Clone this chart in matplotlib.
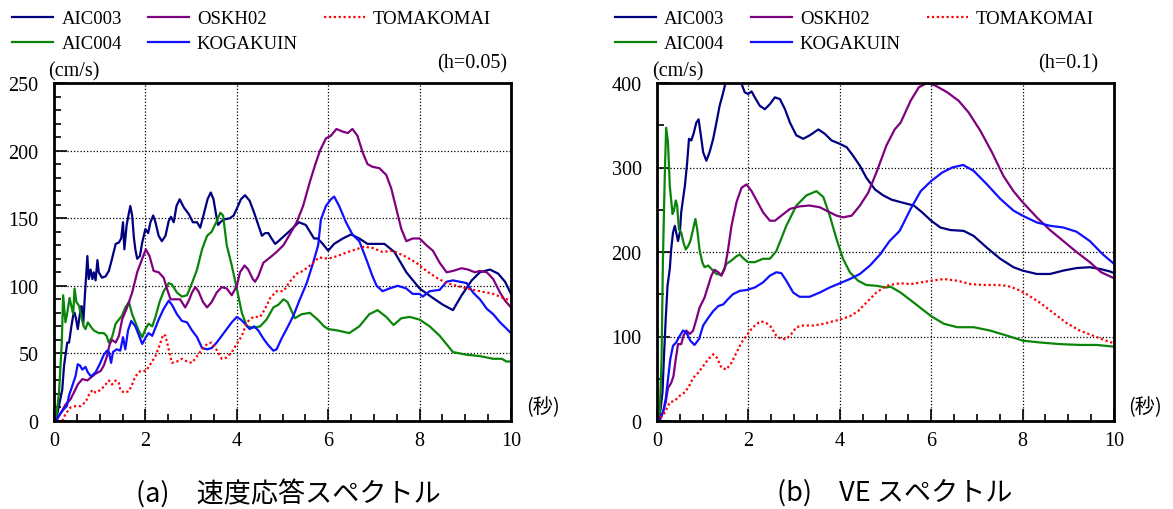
import matplotlib
matplotlib.use("Agg")
import matplotlib.pyplot as plt
from matplotlib.ticker import MultipleLocator

SERIF = "Liberation Serif"
CJK = ["Noto Sans CJK JP", "DejaVu Sans"]

# ---------------- (a) velocity response spectra, h = 0.05 ----------------
a_aic003_t = [0.04, 0.18, 0.22, 0.29, 0.33, 0.38, 0.42, 0.45, 0.48, 0.52, 0.57, 0.60, 0.64, 0.68,
              0.73, 0.76, 0.80, 0.84, 0.87, 0.91, 0.95, 0.98, 1.05, 1.13, 1.20, 1.27, 1.35, 1.42,
              1.47, 1.51, 1.54, 1.59, 1.64, 1.67, 1.71, 1.75, 1.78, 1.82, 1.88, 1.93, 2.00, 2.06,
              2.11, 2.17, 2.22, 2.29, 2.36, 2.44, 2.51, 2.56, 2.62, 2.68, 2.75, 2.84, 2.95, 3.04,
              3.13, 3.20, 3.27, 3.36, 3.43, 3.49, 3.55, 3.59, 3.64, 3.71, 3.85, 3.93, 4.00, 4.09,
              4.18, 4.28, 4.38, 4.47, 4.55, 4.62, 4.69, 4.76, 4.84, 4.91, 5.14, 5.36, 5.51, 5.69,
              5.77, 5.88, 6.00, 6.13, 6.32, 6.50, 6.68, 6.86, 7.05, 7.23, 7.45, 7.71, 8.00, 8.29,
              8.51, 8.73, 8.92, 9.14, 9.32, 9.54, 9.72, 9.87, 10.0]
a_aic003_v = [0, 23, 41, 58, 58, 70, 78, 80, 76, 68, 80, 85, 72, 95,
              122, 105, 112, 105, 110, 104, 119, 110, 106, 107, 111, 120, 131, 132,
              135, 147, 127, 145, 154, 159, 152, 135, 127, 120, 122, 132, 142, 139,
              147, 152, 147, 137, 133, 137, 148, 151, 147, 159, 164, 158, 153, 147,
              147, 143, 152, 164, 169, 164, 152, 145, 147, 149, 150, 152, 157, 164,
              167, 163, 154, 145, 137, 139, 139, 135, 131, 133, 140, 147, 145, 135,
              135, 131, 126, 131, 135, 138, 135, 131, 131, 131, 125, 110, 98, 91,
              86, 82, 93, 104, 110, 112, 109, 103, 94]

a_aic004_t = [0.04, 0.11, 0.17, 0.20, 0.25, 0.29, 0.34, 0.38, 0.42, 0.45, 0.49, 0.55, 0.58, 0.62,
              0.65, 0.69, 0.74, 0.80, 0.87, 0.98, 1.09, 1.15, 1.20, 1.27, 1.35, 1.42, 1.49, 1.56,
              1.64, 1.71, 1.78, 1.85, 1.93, 2.00, 2.07, 2.15, 2.22, 2.31, 2.40, 2.51, 2.58, 2.69,
              2.80, 2.91, 3.02, 3.13, 3.24, 3.35, 3.45, 3.55, 3.64, 3.70, 3.78, 3.89, 4.00, 4.11,
              4.22, 4.36, 4.51, 4.65, 4.80, 4.91, 5.02, 5.11, 5.27, 5.42, 5.60, 5.77, 5.91, 6.00,
              6.20, 6.46, 6.68, 6.90, 7.08, 7.27, 7.43, 7.60, 7.78, 8.00, 8.22, 8.44, 8.73, 9.03,
              9.32, 9.61, 9.80, 9.90, 10.0]
a_aic004_v = [0, 21, 58, 93, 73, 80, 91, 85, 79, 98, 88, 85, 80, 74,
              70, 68, 73, 70, 67, 65, 65, 63, 58, 62, 72, 75, 78, 84,
              88, 79, 73, 67, 62, 68, 72, 70, 77, 88, 96, 102, 101, 95,
              92, 93, 102, 112, 127, 137, 140, 147, 154, 152, 130, 115, 98, 80,
              70, 69, 70, 75, 84, 86, 90, 88, 76, 79, 80, 75, 70, 68,
              67, 65, 70, 79, 82, 77, 71, 76, 77, 75, 70, 63, 51, 49,
              48, 46, 46, 44, 44]

a_oskh02_t = [0.04, 0.15, 0.25, 0.36, 0.45, 0.52, 0.62, 0.73, 0.80, 0.91, 1.02, 1.09, 1.16, 1.22,
              1.27, 1.35, 1.42, 1.49, 1.60, 1.71, 1.82, 1.93, 2.01, 2.09, 2.18, 2.29, 2.40, 2.47,
              2.55, 2.65, 2.76, 2.87, 2.95, 3.02, 3.09, 3.16, 3.26, 3.35, 3.45, 3.56, 3.67, 3.78,
              3.89, 4.00, 4.07, 4.17, 4.25, 4.35, 4.40, 4.47, 4.58, 4.73, 4.87, 5.02, 5.16, 5.31,
              5.45, 5.60, 5.71, 5.82, 5.95, 6.06, 6.18, 6.32, 6.43, 6.53, 6.64, 6.75, 6.86, 6.97,
              7.12, 7.27, 7.38, 7.49, 7.60, 7.71, 7.85, 8.00, 8.15, 8.29, 8.44, 8.59, 8.73, 8.92,
              9.06, 9.21, 9.32, 9.47, 9.61, 9.76, 9.87, 10.0]
a_oskh02_v = [0, 6, 12, 16, 22, 27, 31, 30, 32, 35, 37, 41, 48, 57,
              60, 58, 63, 75, 84, 95, 110, 120, 127, 122, 111, 110, 106, 98,
              90, 90, 90, 84, 89, 95, 99, 96, 88, 84, 88, 95, 99, 98,
              93, 100, 110, 115, 112, 105, 103, 107, 117, 121, 125, 130, 138, 147,
              159, 177, 189, 200, 209, 211, 216, 214, 213, 216, 211, 199, 190, 188,
              187, 182, 172, 157, 142, 133, 135, 135, 130, 126, 117, 110, 111, 113,
              112, 110, 111, 110, 105, 95, 89, 84]

a_kogakuin_t = [0.04, 0.15, 0.22, 0.28, 0.33, 0.40, 0.47, 0.52, 0.57, 0.62, 0.69, 0.74, 0.81, 0.91,
                1.00, 1.09, 1.16, 1.20, 1.25, 1.29, 1.37, 1.45, 1.51, 1.56, 1.62, 1.69, 1.78, 1.85,
                1.93, 2.01, 2.07, 2.15, 2.22, 2.29, 2.40, 2.51, 2.58, 2.69, 2.80, 2.91, 3.02, 3.13,
                3.24, 3.35, 3.45, 3.56, 3.67, 3.78, 3.89, 4.00, 4.09, 4.18, 4.28, 4.38, 4.47, 4.58,
                4.69, 4.80, 4.87, 4.98, 5.09, 5.24, 5.38, 5.53, 5.67, 5.78, 5.84, 5.95, 6.06, 6.13,
                6.24, 6.39, 6.53, 6.68, 6.83, 6.97, 7.06, 7.19, 7.34, 7.52, 7.71, 7.85, 8.00, 8.07,
                8.22, 8.44, 8.59, 8.73, 8.88, 9.03, 9.17, 9.32, 9.47, 9.61, 9.76, 10.0]
a_kogakuin_v = [0, 6, 9, 11, 19, 26, 33, 42, 41, 38, 40, 36, 33, 36,
                42, 49, 52, 51, 43, 51, 53, 52, 62, 53, 67, 74, 70, 64,
                57, 62, 65, 63, 69, 75, 83, 89, 86, 79, 74, 73, 67, 62,
                54, 53, 54, 58, 63, 68, 73, 77, 75, 72, 68, 70, 67, 61,
                56, 52, 53, 61, 68, 78, 90, 102, 117, 130, 149, 159, 164, 166,
                159, 147, 138, 133, 120, 107, 100, 96, 98, 100, 98, 94, 94, 92,
                96, 97, 103, 104, 103, 102, 95, 90, 83, 79, 73, 65]

a_tomakomai_t = [0.18, 0.25, 0.36, 0.47, 0.58, 0.69, 0.76, 0.84, 0.91, 1.02, 1.13, 1.20, 1.27, 1.35,
                 1.42, 1.45, 1.53, 1.64, 1.71, 1.78, 1.89, 2.01, 2.11, 2.22, 2.31, 2.39, 2.44, 2.51,
                 2.58, 2.69, 2.80, 2.91, 3.02, 3.13, 3.24, 3.35, 3.45, 3.55, 3.67, 3.78, 3.89, 4.00,
                 4.11, 4.22, 4.36, 4.51, 4.62, 4.73, 4.87, 5.02, 5.16, 5.31, 5.45, 5.60, 5.80, 6.00,
                 6.20, 6.43, 6.61, 6.79, 6.97, 7.19, 7.41, 7.67, 7.93, 8.15, 8.37, 8.59, 8.81, 9.03,
                 9.32, 9.61, 9.83, 10.0]
a_tomakomai_v = [0, 5, 10, 11, 11, 14, 19, 23, 21, 23, 27, 30, 27, 30,
                 28, 23, 21, 22, 27, 33, 37, 37, 42, 48, 56, 64, 63, 53,
                 43, 44, 46, 44, 43, 48, 53, 57, 58, 53, 46, 47, 51, 57,
                 63, 73, 77, 77, 83, 91, 96, 96, 103, 109, 111, 115, 121, 120,
                 122, 125, 127, 129, 128, 125, 126, 122, 117, 111, 106, 102, 100, 98,
                 96, 94, 91, 89]

# ---------------- (b) VE spectra, h = 0.1 ----------------
b_aic003_t = [0.0, 0.06, 0.12, 0.15, 0.19, 0.23, 0.28, 0.31, 0.35, 0.39, 0.42, 0.46, 0.50, 0.53,
              0.57, 0.61, 0.66, 0.70, 0.75, 0.80, 0.86, 0.91, 0.96, 1.01, 1.08, 1.15, 1.23, 1.30,
              1.37, 1.45, 1.52, 1.66, 1.85, 1.92, 1.99, 2.07, 2.14, 2.25, 2.36, 2.47, 2.58, 2.69,
              2.80, 2.91, 3.05, 3.20, 3.34, 3.53, 3.67, 3.82, 4.00, 4.15, 4.29, 4.44, 4.58, 4.77,
              4.95, 5.13, 5.33, 5.62, 5.80, 6.00, 6.20, 6.42, 6.71, 6.93, 7.22, 7.51, 7.80, 8.00,
              8.31, 8.60, 8.89, 9.18, 9.47, 9.69, 9.91, 10.0]
b_aic003_v = [0, 6, 34, 73, 120, 160, 180, 203, 223, 231, 223, 213, 223, 247,
              263, 278, 306, 334, 332, 340, 353, 357, 338, 318, 308, 318, 334, 353,
              373, 389, 405, 418, 399, 389, 387, 390, 383, 373, 369, 375, 383, 381,
              369, 353, 338, 334, 338, 345, 340, 332, 328, 324, 314, 302, 288, 274,
              267, 262, 259, 255, 247, 237, 229, 226, 225, 219, 205, 192, 182, 178,
              174, 174, 178, 181, 182, 180, 177, 175]

b_aic004_t = [0.0, 0.06, 0.10, 0.13, 0.17, 0.20, 0.24, 0.28, 0.34, 0.37, 0.41, 0.44, 0.48, 0.53,
              0.58, 0.63, 0.68, 0.73, 0.79, 0.84, 0.88, 0.93, 0.99, 1.04, 1.12, 1.19, 1.30, 1.41,
              1.52, 1.63, 1.74, 1.81, 1.88, 1.99, 2.14, 2.32, 2.47, 2.61, 2.83, 3.05, 3.27, 3.49,
              3.64, 3.78, 3.93, 4.07, 4.22, 4.40, 4.58, 4.80, 5.02, 5.11, 5.33, 5.62, 6.00, 6.28,
              6.57, 6.93, 7.29, 7.66, 8.01, 8.37, 8.81, 9.25, 9.62, 10.0]
b_aic004_v = [0, 10, 73, 192, 290, 347, 330, 278, 245, 249, 261, 255, 227, 223,
              211, 203, 207, 213, 227, 239, 227, 203, 188, 182, 184, 180, 174, 173,
              186, 190, 195, 197, 193, 188, 188, 192, 192, 201, 231, 255, 267, 272,
              265, 243, 215, 192, 176, 166, 161, 160, 158, 159, 152, 140, 124, 115,
              111, 111, 107, 101, 95, 93, 91, 90, 90, 88]

b_oskh02_t = [0.0, 0.06, 0.13, 0.19, 0.24, 0.31, 0.36, 0.41, 0.46, 0.53, 0.58, 0.64, 0.72, 0.79,
              0.86, 0.93, 1.04, 1.12, 1.19, 1.26, 1.34, 1.41, 1.48, 1.55, 1.63, 1.74, 1.85, 1.96,
              2.07, 2.18, 2.32, 2.47, 2.58, 2.72, 2.91, 3.12, 3.34, 3.56, 3.78, 3.93, 4.07, 4.26,
              4.44, 4.62, 4.80, 5.02, 5.20, 5.33, 5.55, 5.73, 5.91, 6.09, 6.35, 6.60, 6.82, 7.07,
              7.33, 7.58, 7.80, 8.00, 8.31, 8.60, 8.89, 9.18, 9.47, 9.72, 10.0]
b_oskh02_v = [0, 4, 10, 22, 39, 45, 53, 73, 91, 91, 101, 107, 103, 107,
              120, 134, 146, 160, 172, 179, 176, 172, 180, 201, 231, 259, 276, 280,
              272, 261, 247, 237, 237, 243, 251, 254, 255, 253, 247, 243, 241, 243,
              255, 270, 294, 326, 345, 353, 379, 395, 400, 397, 389, 379, 365, 344,
              318, 290, 272, 259, 241, 226, 213, 200, 188, 176, 169]

b_kogakuin_t = [0.0, 0.07, 0.13, 0.19, 0.24, 0.29, 0.35, 0.42, 0.50, 0.57, 0.64, 0.73, 0.82, 0.92,
                1.01, 1.12, 1.23, 1.34, 1.45, 1.55, 1.66, 1.81, 1.96, 2.14, 2.32, 2.47, 2.61, 2.72,
                2.83, 2.98, 3.12, 3.34, 3.56, 3.78, 4.00, 4.22, 4.44, 4.66, 4.88, 5.09, 5.31, 5.55,
                5.77, 6.00, 6.24, 6.46, 6.70, 6.93, 7.22, 7.51, 7.80, 8.00, 8.31, 8.60, 8.89, 9.18,
                9.47, 9.76, 10.0]
b_kogakuin_v = [0, 2, 10, 26, 49, 73, 89, 93, 101, 107, 105, 95, 90, 97,
                113, 122, 130, 136, 138, 144, 150, 154, 155, 158, 164, 172, 176, 175,
                166, 152, 147, 147, 152, 158, 163, 168, 174, 184, 197, 213, 225, 251,
                272, 284, 294, 300, 303, 296, 280, 263, 249, 243, 235, 231, 229, 224,
                213, 197, 186]

b_tomakomai_t = [0.0, 0.06, 0.17, 0.28, 0.39, 0.50, 0.61, 0.70, 0.79, 0.90, 1.01, 1.12, 1.23, 1.31,
                 1.41, 1.52, 1.63, 1.74, 1.85, 1.96, 2.07, 2.18, 2.28, 2.39, 2.50, 2.61, 2.72, 2.83,
                 2.94, 3.05, 3.20, 3.42, 3.64, 3.85, 4.00, 4.22, 4.40, 4.58, 4.80, 5.02, 5.20, 5.33,
                 5.55, 5.77, 6.00, 6.28, 6.57, 6.86, 7.15, 7.44, 7.66, 7.88, 8.09, 8.38, 8.67, 8.96,
                 9.25, 9.54, 9.83, 10.0]
b_tomakomai_v = [0, 2, 10, 22, 24, 30, 34, 41, 51, 57, 65, 73, 79, 75,
                 63, 61, 69, 81, 93, 101, 109, 115, 118, 116, 111, 101, 97, 97,
                 103, 111, 113, 113, 115, 118, 120, 124, 130, 140, 152, 160, 162, 163,
                 162, 164, 166, 168, 166, 162, 161, 161, 160, 156, 150, 140, 128, 116,
                 107, 101, 95, 92]

station_order = ["AIC003", "AIC004", "OSKH02", "KOGAKUIN", "TOMAKOMAI"]

panel_a = {
    "AIC003": (a_aic003_t, a_aic003_v),
    "AIC004": (a_aic004_t, a_aic004_v),
    "OSKH02": (a_oskh02_t, a_oskh02_v),
    "KOGAKUIN": (a_kogakuin_t, a_kogakuin_v),
    "TOMAKOMAI": (a_tomakomai_t, a_tomakomai_v),
}
panel_b = {
    "AIC003": (b_aic003_t, b_aic003_v),
    "AIC004": (b_aic004_t, b_aic004_v),
    "OSKH02": (b_oskh02_t, b_oskh02_v),
    "KOGAKUIN": (b_kogakuin_t, b_kogakuin_v),
    "TOMAKOMAI": (b_tomakomai_t, b_tomakomai_v),
}

line_style = {
    "AIC003": dict(color="#000080", linestyle="-"),
    "AIC004": dict(color="#0a850a", linestyle="-"),
    "OSKH02": dict(color="#800080", linestyle="-"),
    "KOGAKUIN": dict(color="#1010ff", linestyle="-"),
    "TOMAKOMAI": dict(color="#ff0000", linestyle=(0, (1, 1.2))),
}

W, H = 1173, 510
fig = plt.figure(figsize=(W / 100, H / 100), dpi=100)


def px_box(x0, y0, x1, y1):
    return [x0 / W, 1 - y1 / H, (x1 - x0) / W, (y1 - y0) / H]


def draw_panel(rect, data, ymax, ymajor, yminor, damping, legend_x, unit_x, h_x, sec_x):
    ax = fig.add_axes(px_box(*rect))
    handles = {}
    for name in station_order:
        t, v = data[name]
        (ln,) = ax.plot(t, v, lw=1.6, label=name, **line_style[name])
        handles[name] = ln
    ax.set_xlim(0, 10)
    ax.set_ylim(0, ymax)
    ax.xaxis.set_major_locator(MultipleLocator(2))
    ax.xaxis.set_minor_locator(MultipleLocator(0.5))
    ax.yaxis.set_major_locator(MultipleLocator(ymajor))
    ax.yaxis.set_minor_locator(MultipleLocator(yminor))
    ax.grid(which="major", color="black", linestyle=(0, (1, 1.6)), linewidth=0.9)
    ax.tick_params(which="both", direction="in", top=False, right=False,
                   labelsize=14.5, width=1.2)
    ax.tick_params(which="major", length=9)
    ax.tick_params(which="minor", length=5)
    ax.tick_params(axis="y", pad=11)
    ax.tick_params(axis="x", pad=7)
    for lab in ax.get_xticklabels() + ax.get_yticklabels():
        lab.set_fontfamily(SERIF)
    for sp in ax.spines.values():
        sp.set_linewidth(2.0)

    ax.legend([handles[n] for n in station_order], station_order, ncol=3,
              loc="upper left", bbox_to_anchor=(legend_x / W, 1 - 11 / H),
              bbox_transform=fig.transFigure, frameon=False,
              prop={"family": SERIF, "size": 13.5}, handlelength=2.2,
              handletextpad=0.43, columnspacing=1.38, labelspacing=0.42,
              borderpad=0, borderaxespad=0)

    fig.text(unit_x / W, 1 - 72 / H, "(cm/s)", family=SERIF, fontsize=14.5,
             ha="left", va="center")
    fig.text(h_x / W, 1 - 64 / H, f"(h={damping})", family=SERIF, fontsize=14.5,
             ha="right", va="center")
    fig.text(sec_x / W, 1 - 408 / H, "(秒)", family=CJK, fontsize=14.5,
             ha="left", va="center")
    return ax


draw_panel((54, 84, 511, 422), panel_a, 250, 50, 10, "0.05", 12, 48, 507, 526)
draw_panel((657, 84, 1114, 422), panel_b, 400, 100, 50, "0.1", 615, 652, 1098, 1128)

fig.text(288 / W, 1 - 493 / H, "(a)\u3000速度応答スペクトル", family=CJK, fontsize=19.5,
         ha="center", va="center")
fig.text(895 / W, 1 - 493 / H, "(b)\u3000VE スペクトル", family=CJK, fontsize=19.5,
         ha="center", va="center")

fig.savefig("out.png", dpi=100)
